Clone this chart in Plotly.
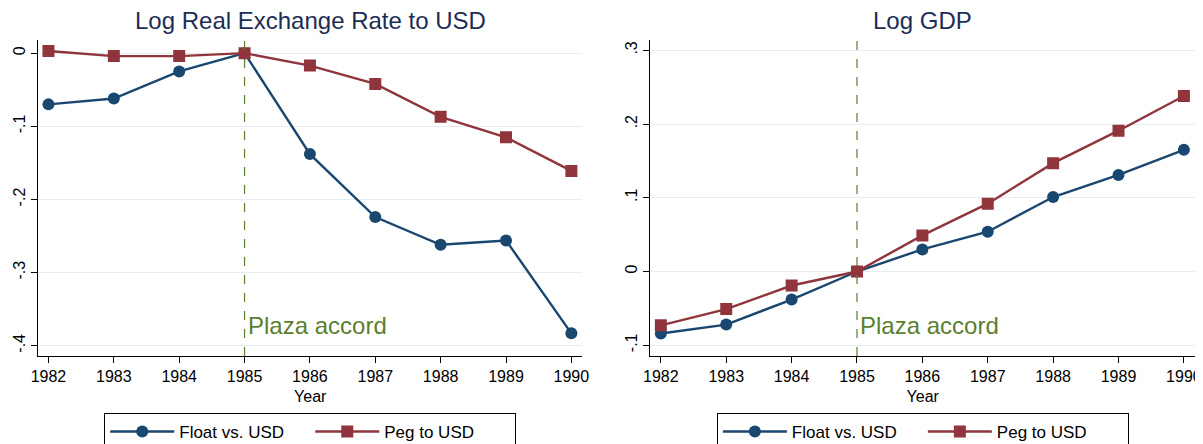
"""Plaza accord event-study style panels: real exchange rate and GDP."""
import plotly.graph_objects as go

YEARS = [1982, 1983, 1984, 1985, 1986, 1987, 1988, 1989, 1990]

RER_FLOAT = [-0.070, -0.062, -0.025, 0.0, -0.138, -0.224, -0.262, -0.256, -0.383]
RER_PEG = [0.003, -0.004, -0.004, 0.0, -0.017, -0.042, -0.087, -0.115, -0.161]

GDP_FLOAT = [-0.084, -0.072, -0.038, 0.0, 0.030, 0.054, 0.101, 0.131, 0.165]
GDP_PEG = [-0.073, -0.051, -0.019, 0.0, 0.049, 0.092, 0.147, 0.191, 0.238]

RER_TICKS = [0, -0.1, -0.2, -0.3, -0.4]
RER_TICKTEXT = ["0", "-.1", "-.2", "-.3", "-.4"]
GDP_TICKS = [-0.1, 0, 0.1, 0.2, 0.3]
GDP_TICKTEXT = ["-.1", "0", ".1", ".2", ".3"]

EVENT_YEAR = 1985
EVENT_LABEL = "Plaza accord"

NAVY = "#1a476f"
MAROON = "#90353b"
GREEN = "#5b7f2e"
TITLE_COLOR = "#1c2d55"
GRID = "#e4edf1"
FONT = "Liberation Sans, Arial, sans-serif"

figure = go.Figure()

panels = [
    ("x", "y", "legend", RER_FLOAT, RER_PEG),
    ("x2", "y2", "legend2", GDP_FLOAT, GDP_PEG),
]
for xref, yref, legend_name, float_vals, peg_vals in panels:
    figure.add_trace(
        go.Scatter(
            x=YEARS, y=float_vals, mode="lines+markers", name="Float vs. USD",
            line={"color": NAVY, "width": 2.4},
            marker={"symbol": "circle", "size": 12, "color": NAVY},
            xaxis=xref, yaxis=yref, legend=legend_name,
        )
    )
    figure.add_trace(
        go.Scatter(
            x=YEARS, y=peg_vals, mode="lines+markers", name="Peg to USD",
            line={"color": MAROON, "width": 2.4},
            marker={"symbol": "square", "size": 12, "color": MAROON},
            xaxis=xref, yaxis=yref, legend=legend_name,
        )
    )
    figure.add_shape(
        type="line", xref=xref, yref=f"{yref} domain",
        x0=EVENT_YEAR, x1=EVENT_YEAR, y0=0, y1=1,
        line={"color": GREEN, "width": 1.2, "dash": "dash"},
    )
    figure.add_annotation(
        x=EVENT_YEAR, y=0.095, xref=xref, yref=f"{yref} domain",
        text=EVENT_LABEL, showarrow=False, xanchor="left", yanchor="middle",
        xshift=1, font={"size": 24, "color": GREEN, "family": FONT},
    )

axis_common = {
    "showline": True, "linecolor": "black", "linewidth": 1,
    "ticks": "outside", "ticklen": 6, "tickcolor": "black",
    "tickfont": {"size": 16, "color": "black", "family": FONT},
    "zeroline": False, "automargin": False,
}
xaxis_common = dict(
    axis_common,
    range=[1981.84, 1990.17], tickvals=YEARS, showgrid=False,
    title={"text": "Year", "font": {"size": 16, "color": "black", "family": FONT}, "standoff": 6},
)

legend_common = {
    "y": -0.18, "xanchor": "center", "yanchor": "top",
    "orientation": "h", "bordercolor": "black", "borderwidth": 1,
    "font": {"size": 17, "color": "black", "family": FONT},
    "itemwidth": 64, "entrywidth": 126,
}

# the page body keeps an 8px offset, so the figure is trimmed by that much
figure.update_layout(
    width=1195, height=436,
    margin={"l": 30, "r": 7.6, "t": 32, "b": 88, "autoexpand": False},
    paper_bgcolor="white", plot_bgcolor="white",
    font={"family": FONT},
    xaxis=dict(xaxis_common, domain=[0, 0.4706], anchor="y"),
    xaxis2=dict(xaxis_common, domain=[0.5293, 1], anchor="y2"),
    yaxis=dict(
        axis_common, range=[-0.414, 0.018], tickvals=RER_TICKS, ticktext=RER_TICKTEXT,
        tickangle=-90, showgrid=True, gridcolor=GRID, gridwidth=1, anchor="x",
    ),
    yaxis2=dict(
        axis_common, range=[-0.1146, 0.314], tickvals=GDP_TICKS, ticktext=GDP_TICKTEXT,
        tickangle=-90, showgrid=True, gridcolor=GRID, gridwidth=1, anchor="x2",
    ),
    legend=dict(legend_common, x=0.2353),
    legend2=dict(legend_common, x=0.7648),
    showlegend=True,
)

titles = [("Log Real Exchange Rate to USD", 0.2353), ("Log GDP", 0.7648)]
for text, x_center in titles:
    figure.add_annotation(
        x=x_center, y=1.063, xref="paper", yref="paper", text=text,
        showarrow=False, xanchor="center", yanchor="middle",
        font={"size": 24, "color": TITLE_COLOR, "family": FONT},
    )

figure.write_html("out.html")
